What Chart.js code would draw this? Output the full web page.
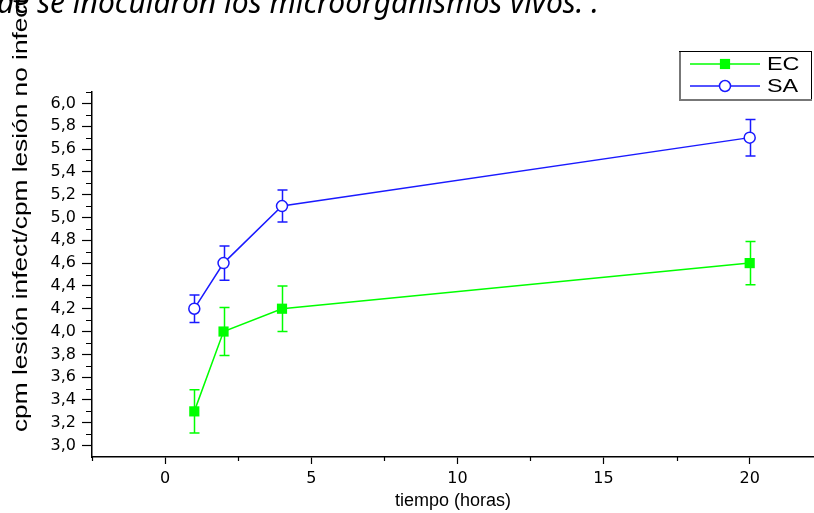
<!DOCTYPE html>
<html>
<head>
<meta charset="utf-8">
<script src="https://cdn.jsdelivr.net/npm/chart.js@4.4.1/dist/chart.umd.min.js"></script>
<style>
html,body{margin:0;padding:0;background:#fff;}
#wrap{position:relative;width:814px;height:513px;overflow:hidden;}
</style>
</head>
<body>
<div id="wrap"><canvas id="myChart" width="814" height="513"></canvas></div>
<script>
// values
const hours = [1, 2, 4, 20];
const ecValues = [3.3, 4.0, 4.2, 4.6];
const ecErrors = [0.19, 0.21, 0.2, 0.19];
const saValues = [4.2, 4.6, 5.1, 5.7];
const saErrors = [0.12, 0.15, 0.14, 0.16];
const seriesNames = ['EC', 'SA'];
const xTicks = [0, 5, 10, 15, 20];
const xMinorTicks = [-2.5, 2.5, 7.5, 12.5, 17.5];
const yTicks = [3.0, 3.2, 3.4, 3.6, 3.8, 4.0, 4.2, 4.4, 4.6, 4.8, 5.0, 5.2, 5.4, 5.6, 5.8, 6.0];
const yMinorTicks = [3.1, 3.3, 3.5, 3.7, 3.9, 4.1, 4.3, 4.5, 4.7, 4.9, 5.1, 5.3, 5.5, 5.7, 5.9, 6.1];
const topText = 'de se inocularon los microorganismos vivos. .';
const xTitle = 'tiempo (horas)';
const yTitle = 'cpm lesión infect/cpm lesión no infect';

const green = '#00ff00';
const blue = '#1a1aff';
const sans = '"DejaVu Sans", sans-serif';
const arial = '"Liberation Sans", Arial, sans-serif';

// error bars, drawn under the markers
const errorBars = {
    id: 'errorBars',
    beforeDatasetsDraw(chart){
        const ctx = chart.ctx;
        const xs = chart.scales.x, ys = chart.scales.y;
        chart.data.datasets.forEach(ds => {
            ctx.save();
            ctx.strokeStyle = ds.borderColor;
            ctx.lineWidth = 1.5;
            ds.data.forEach((p, i) => {
                const px = Math.round(xs.getPixelForValue(p.x)) + 0.5;
                const top = ys.getPixelForValue(p.y + ds.errors[i]);
                const bot = ys.getPixelForValue(p.y - ds.errors[i]);
                ctx.beginPath();
                ctx.moveTo(px, top); ctx.lineTo(px, bot);
                ctx.moveTo(px - 5, top); ctx.lineTo(px + 5, top);
                ctx.moveTo(px - 5, bot); ctx.lineTo(px + 5, bot);
                ctx.stroke();
            });
            ctx.restore();
        });
    }
};

// minor ticks, side titles and the boxed legend
const extras = {
    id: 'extras',
    afterDraw(chart){
        const ctx = chart.ctx;
        const xs = chart.scales.x, ys = chart.scales.y;
        const area = chart.chartArea;
        ctx.save();
        ctx.strokeStyle = '#000';
        ctx.lineWidth = 1.2;
        ctx.beginPath();
        xMinorTicks.forEach(v => {
            const px = Math.round(xs.getPixelForValue(v)) + 0.5;
            ctx.moveTo(px, area.bottom); ctx.lineTo(px, area.bottom + 4);
        });
        yMinorTicks.forEach(v => {
            const py = Math.round(ys.getPixelForValue(v)) + 0.5;
            ctx.moveTo(area.left, py); ctx.lineTo(area.left - 6, py);
        });
        ctx.stroke();

        // y title (stretched like the original export)
        ctx.save();
        ctx.translate(27, 432);
        ctx.rotate(-Math.PI / 2);
        ctx.scale(1.25, 1);
        ctx.fillStyle = '#000';
        ctx.font = '21px ' + arial;
        ctx.textAlign = 'left';
        ctx.textBaseline = 'alphabetic';
        ctx.fillText(yTitle, 0, 0);
        ctx.restore();

        // cut-off caption line at the top
        ctx.fillStyle = '#000';
        ctx.font = 'italic 30px "Noto Sans", sans-serif';
        ctx.textAlign = 'left';
        ctx.textBaseline = 'alphabetic';
        ctx.fillText(topText, -3, 13);

        // legend box
        const bx = 679, by = 51, bw = 133, bh = 50;
        ctx.fillStyle = '#fff';
        ctx.fillRect(bx, by, bw, bh);
        ctx.lineWidth = 1;
        ctx.strokeStyle = '#000';
        ctx.strokeRect(bx + 0.5, by + 0.5, bw - 1, bh - 1);
        ctx.strokeStyle = '#777';
        ctx.lineWidth = 2;
        ctx.beginPath();
        ctx.moveTo(bx + 1, by + 1); ctx.lineTo(bx + 1, by + bh - 1); ctx.lineTo(bx + bw, by + bh - 1);
        ctx.stroke();

        chart.data.datasets.forEach((ds, i) => {
            const ly = by + 13 + i * 22;
            ctx.strokeStyle = ds.borderColor;
            ctx.lineWidth = 1.5;
            ctx.beginPath();
            ctx.moveTo(690, ly); ctx.lineTo(760, ly);
            ctx.stroke();
            ctx.fillStyle = ds.pointBackgroundColor;
            ctx.strokeStyle = ds.pointBorderColor;
            ctx.lineWidth = ds.pointBorderWidth;
            Chart.helpers.drawPoint(ctx, {pointStyle: ds.pointStyle, radius: ds.pointRadius, borderWidth: ds.pointBorderWidth, rotation: 0}, 725, ly);
            ctx.save();
            ctx.translate(767, ly + 1);
            ctx.scale(1.3, 1);
            ctx.fillStyle = '#000';
            ctx.font = '18px ' + arial;
            ctx.textBaseline = 'middle';
            ctx.fillText(ds.label, 0, 0);
            ctx.restore();
        });
        ctx.restore();
    }
};

const ctx = document.getElementById('myChart').getContext('2d');
new Chart(ctx, {
    type: 'line',
    data: {
        datasets: [
            {
                label: seriesNames[0],
                data: hours.map((h, i) => ({x: h, y: ecValues[i]})),
                errors: ecErrors,
                borderColor: green,
                borderWidth: 1.5,
                pointStyle: 'rect',
                pointRadius: 7.2,
                pointBackgroundColor: green,
                pointBorderColor: green,
                pointBorderWidth: 0,
                tension: 0,
            },
            {
                label: seriesNames[1],
                data: hours.map((h, i) => ({x: h, y: saValues[i]})),
                errors: saErrors,
                borderColor: blue,
                borderWidth: 1.5,
                pointStyle: 'circle',
                pointRadius: 5.5,
                pointBackgroundColor: '#fff',
                pointBorderColor: blue,
                pointBorderWidth: 1.5,
                tension: 0,
            },
        ],
    },
    options: {
        responsive: false,
        animation: false,
        devicePixelRatio: 1,
        layout: {autoPadding: false, padding: {top: 92, left: 0, right: 0, bottom: 0}},
        plugins: {legend: {display: false}, tooltip: {enabled: false}},
        scales: {
            x: {
                type: 'linear',
                min: -2.5,
                max: 22.2,
                afterBuildTicks: s => { s.ticks = xTicks.map(v => ({value: v})); },
                afterFit: s => { s.height = 56; },
                grid: {display: true, drawOnChartArea: false, drawTicks: true, tickLength: 7, color: '#000', tickWidth: 1.2},
                border: {display: true, color: '#000', width: 1.5},
                ticks: {color: '#000', padding: 5, maxRotation: 0, font: {family: sans, size: 16}},
                title: {display: true, text: xTitle, color: '#000', padding: {top: 0, bottom: 1}, font: {family: arial, size: 18}},
            },
            y: {
                type: 'linear',
                min: 2.9,
                max: 6.1,
                afterBuildTicks: s => { s.ticks = yTicks.map(v => ({value: v})); },
                afterFit: s => { s.width = 92; },
                grid: {display: true, drawOnChartArea: false, drawTicks: true, tickLength: 10, color: '#000', tickWidth: 1.2},
                border: {display: true, color: '#000', width: 1.5},
                ticks: {color: '#000', padding: 6, callback: v => v.toFixed(1).replace('.', ','), font: {family: sans, size: 16}},
            },
        },
    },
    plugins: [errorBars, extras],
});
</script>
</body>
</html>
